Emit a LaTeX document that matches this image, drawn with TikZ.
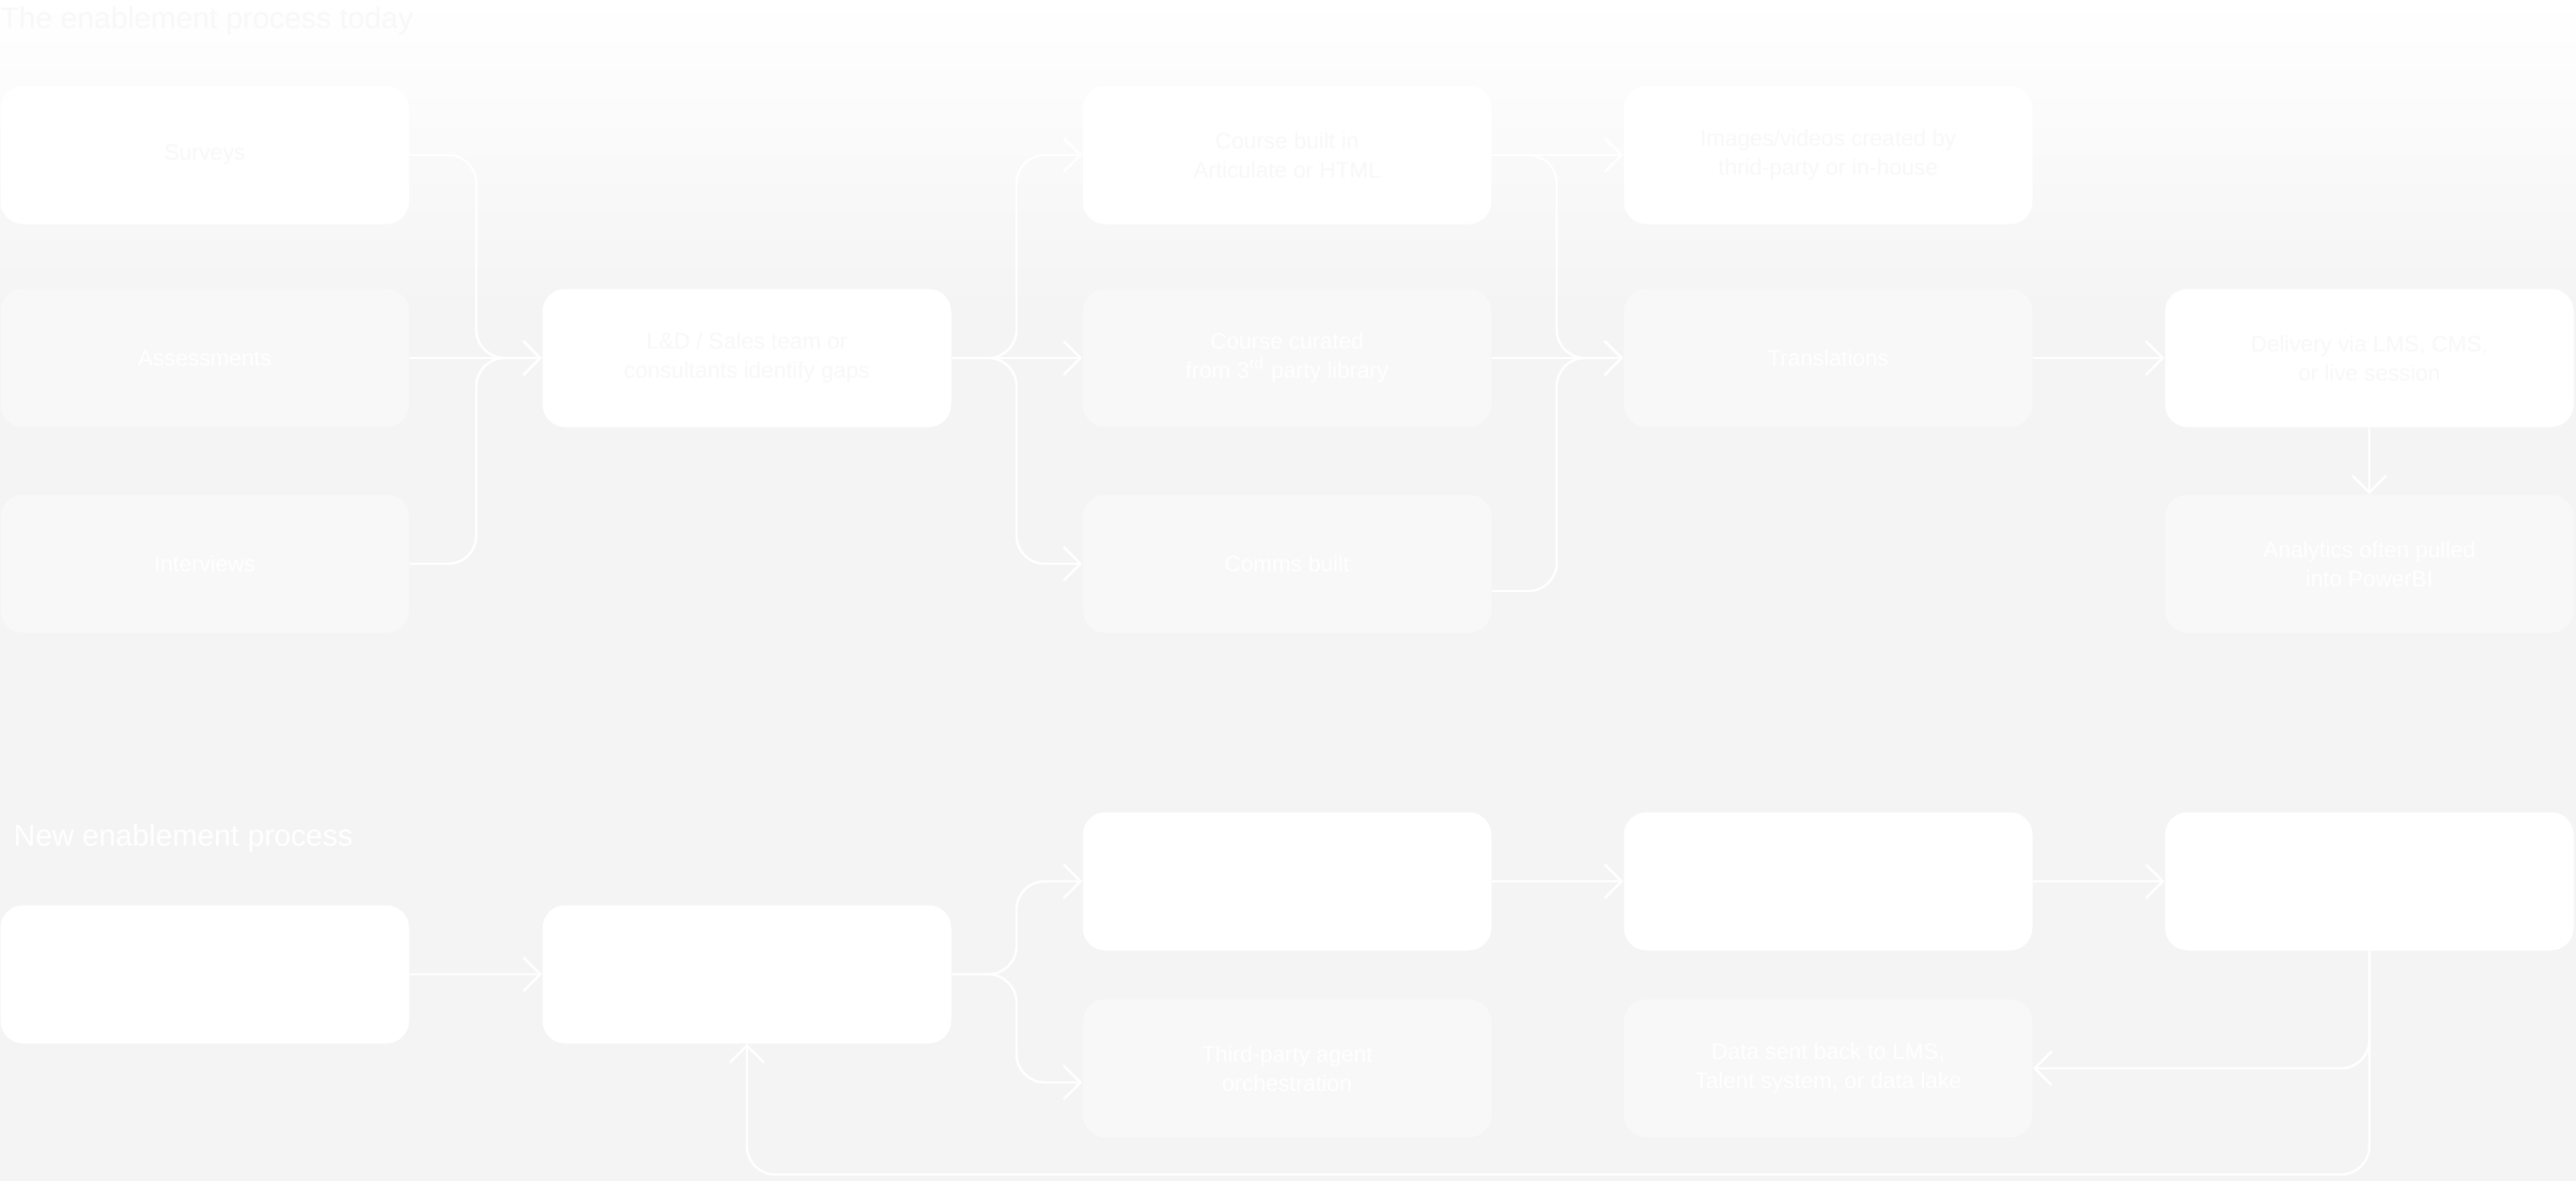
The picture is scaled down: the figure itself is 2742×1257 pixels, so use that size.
\documentclass[tikz,border=0pt]{standalone}
\usepackage{fontspec}
\setmainfont{Liberation Sans}
\usetikzlibrary{arrows.meta,positioning,calc,backgrounds}
\definecolor{pagebg}{HTML}{F4F4F4}
\definecolor{boxgrey}{HTML}{F8F8F8}
\definecolor{ghost}{HTML}{F8F8F8}
\tikzset{
  wbox/.style={rectangle, rounded corners=2.4mm, fill=white, text=ghost,
               align=center, font=\fontsize{6.8}{8.8}\selectfont,
               minimum width=43.5mm, minimum height=14.7mm, inner sep=0pt},
  gbox/.style={wbox, fill=boxgrey, text=white},
  hdr/.style={anchor=west, font=\fontsize{9.1}{11}\selectfont, inner sep=0pt},
  link/.style={-{Straight Barb[length=1.8mm,width=3.6mm]}, draw=white,
               line width=0.7pt, rounded corners=3mm},
}

\begin{document}
\begin{tikzpicture}[x=0.1mm,y=-0.1mm]

% ---------- page ----------
\begin{scope}[on background layer]
\fill[pagebg] (0,0) rectangle (2742,1257);
\shade[top color=white,bottom color=pagebg] (0,0) rectangle (2742,330);
\end{scope}
\useasboundingbox (0,0) rectangle (2742,1257);

% ---------- today ----------
\node[hdr,text=ghost] (titleA) at (0,22) {The enablement process today};

\node[wbox] (surveys) at (218,165) {Surveys};
\node[gbox] (assess)  at (218,381) {Assessments};
\node[gbox] (interv)  at (218,600) {Interviews};

\node[wbox] (gaps) at (795,381) {L\&D / Sales team or\\consultants identify gaps};

\node[wbox] (built)   at (1370,165) {Course built in\\Articulate or HTML};
\node[gbox] (curated) at (1370,381) {Course curated\\from 3\textsuperscript{rd} party library};
\node[gbox] (comms)   at (1370,600) {Comms built};

\node[wbox] (media)  at (1946,165) {Images/videos created by\\thrid-party or in-house};
\node[gbox] (transl) at (1946,381) {Translations};

\node[wbox] (deliver)   at (2522,381) {Delivery via LMS, CMS,\\or live session};
\node[gbox] (analytics) at (2522,600) {Analytics often pulled\\into PowerBI};

\coordinate (jA) at (507,381);
\coordinate (jB) at (1082,381);
\coordinate (jC) at (1657,381);

\draw[link] (surveys.east) -| (jA) -- (gaps.west);
\draw[link] (assess.east) -- (gaps.west);
\draw[link] (interv.east) -| (jA) -- (gaps.west);

\draw[link] (gaps.east) -- (jB) |- (built.west);
\draw[link] (gaps.east) -- (curated.west);
\draw[link] (gaps.east) -- (jB) |- (comms.west);

\draw[link] (built.east) -- (media.west);
\draw[link] (built.east) -| (jC) -- (transl.west);
\draw[link] (curated.east) -- (transl.west);
\draw[link] ($(comms.east)+(0,29)$) -| (jC) -- (transl.west);

\draw[link] (transl.east) -- (deliver.west);
\draw[link] (deliver.south) -- (analytics.north);

% ---------- new ----------
\node[hdr,text=white] (titleB) at (14,892) {New enablement process};

\node[wbox] (n1) at (218,1037) {};
\node[wbox] (n2) at (795,1037) {};
\node[wbox] (n3) at (1370,938) {};
\node[gbox] (agents) at (1370,1137) {Third-party agent\\orchestration};
\node[wbox] (n4) at (1946,938) {};
\node[gbox] (datasent) at (1946,1137) {Data sent back to LMS,\\Talent system, or data lake};
\node[wbox] (n5) at (2522,938) {};

\coordinate (jD) at (1082,1037);
\coordinate (jE) at (2522,1250);

\draw[link] (n1.east) -- (n2.west);
\draw[link] (n2.east) -- (jD) |- (n3.west);
\draw[link] (n2.east) -- (jD) |- ($(agents.west)+(0,15)$);
\draw[link] (n3.east) -- (n4.west);
\draw[link] (n4.east) -- (n5.west);
\draw[link] (n5.south) |- (datasent.east);
\draw[link] (n5.south) -- (jE) -| (n2.south);

% ---------- glow round the white boxes ----------
\begin{scope}[on background layer]
\foreach \n in {surveys,gaps,built,media,deliver,n1,n2,n3,n4,n5}
  \foreach \g in {8,16,...,72}
    \fill[white,opacity=0.08,rounded corners=5mm]
      ($(\n.north west)+(-\g,-\g)$) rectangle ($(\n.south east)+(\g,\g)$);
\end{scope}
\end{tikzpicture}
\end{document}
